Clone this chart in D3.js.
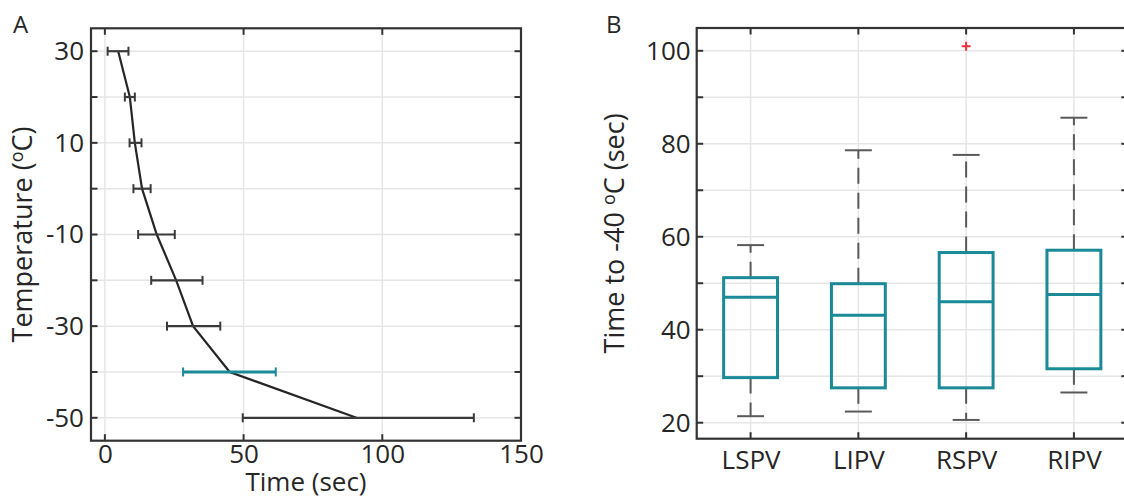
<!DOCTYPE html>
<html><head><meta charset="utf-8">
<script src="https://cdn.jsdelivr.net/npm/d3@7/dist/d3.min.js"></script>
<style>body{margin:0;background:#fff}svg{display:block}text{font-family:"Open Sans",sans-serif;fill:#262626}</style>
</head><body>
<script>
// Panel A data
const temps = [30, 20, 10, 0, -10, -20, -30, -40, -50];
const meanTime = [4.8, 9.0, 10.8, 13.4, 18.7, 25.7, 31.8, 45.0, 90.7];
const lowTime = [1.0, 7.2, 8.9, 10.3, 12.0, 16.7, 22.4, 28.2, 49.7];
const highTime = [8.5, 10.8, 13.2, 16.5, 25.2, 35.2, 41.6, 61.6, 133.0];
const highlightTemp = -40;
const xTicksA = [0, 50, 100, 150];
const yTicksA = [30, 20, 10, 0, -10, -20, -30, -40, -50];
const yLabelsA = [30, 10, -10, -30, -50];

// Panel B data
const veins = ["LSPV", "LIPV", "RSPV", "RIPV"];
const q1 = [29.7, 27.5, 27.5, 31.6];
const medians = [47.0, 43.1, 46.0, 47.6];
const q3 = [51.2, 49.9, 56.6, 57.1];
const whiskLow = [21.4, 22.4, 20.6, 26.5];
const whiskHigh = [58.2, 78.6, 77.6, 85.6];
const outlierVein = ["RSPV"];
const outlierValue = [101.0];
const yTicksB = [20, 30, 40, 50, 60, 70, 80, 90, 100];
const yLabelsB = [20, 40, 60, 80, 100];

const W = 1124, H = 499;
const svg = d3.select("body").append("svg").attr("width", W).attr("height", H);
const frameCol = "#333", gridCol = "#e6e6e6", teal = "#1a8a98", dark = "#262626";
const tickFont = 26, labFont = 27, tl = 6.5;
const plain = d => String(d);

// ---------- Panel A ----------
const A = {l: 91, r: 521, t: 28.3, b: 440.7};
const xA = d3.scaleLinear().domain([-5, 150]).range([A.l, A.r]);
const yA = d3.scaleLinear().domain([-55, 35]).range([A.b, A.t]);
const gA = svg.append("g");
gA.selectAll(".gx").data(xTicksA.filter(d => d < 150)).join("line")
  .attr("x1", d => xA(d)).attr("x2", d => xA(d)).attr("y1", A.t).attr("y2", A.b)
  .attr("stroke", gridCol).attr("stroke-width", 1.5);
gA.selectAll(".gy").data(yTicksA).join("line")
  .attr("x1", A.l).attr("x2", A.r).attr("y1", d => yA(d)).attr("y2", d => yA(d))
  .attr("stroke", gridCol).attr("stroke-width", 1.5);
const pts = temps.map((t, i) => [meanTime[i], t]);
gA.append("path").datum(pts)
  .attr("d", d3.line().x(d => xA(d[0])).y(d => yA(d[1])))
  .attr("fill", "none").attr("stroke", dark).attr("stroke-width", 2.2);
temps.forEach((t, i) => {
  const c = t === highlightTemp ? teal : "#3a3a3a";
  const w = t === highlightTemp ? 3 : 2.2;
  const y = yA(t);
  gA.append("line").attr("x1", xA(lowTime[i])).attr("x2", xA(highTime[i])).attr("y1", y).attr("y2", y)
    .attr("stroke", c).attr("stroke-width", w);
  [lowTime[i], highTime[i]].forEach(v => {
    gA.append("line").attr("x1", xA(v)).attr("x2", xA(v)).attr("y1", y - 4.5).attr("y2", y + 4.5)
      .attr("stroke", c).attr("stroke-width", 2);
  });
});
gA.append("rect").attr("x", A.l).attr("y", A.t).attr("width", A.r - A.l).attr("height", A.b - A.t)
  .attr("fill", "none").attr("stroke", frameCol).attr("stroke-width", 2.2);
const axBA = d3.axisBottom(xA).tickValues(xTicksA).tickSize(0).tickPadding(3).tickFormat(plain);
const gxA = gA.append("g").attr("transform", `translate(0,${A.b})`).call(axBA);
gxA.select(".domain").remove();
gxA.selectAll("text").attr("font-size", tickFont).attr("font-family", "Open Sans").attr("fill", dark).attr("dy", "0.76em");
xTicksA.forEach(v => {
  [[A.b, A.b - tl], [A.t, A.t + tl]].forEach(([a, b]) =>
    gA.append("line").attr("x1", xA(v)).attr("x2", xA(v)).attr("y1", a).attr("y2", b).attr("stroke", frameCol).attr("stroke-width", 2));
});
yTicksA.forEach(v => {
  [[A.l, A.l + tl], [A.r, A.r - tl]].forEach(([a, b]) =>
    gA.append("line").attr("x1", a).attr("x2", b).attr("y1", yA(v)).attr("y2", yA(v)).attr("stroke", frameCol).attr("stroke-width", 2));
});
const axLA = d3.axisLeft(yA).tickValues(yLabelsA).tickSize(0).tickPadding(7).tickFormat(plain);
const gyA = gA.append("g").attr("transform", `translate(${A.l},0)`).call(axLA);
gyA.select(".domain").remove();
gyA.selectAll("text").attr("font-size", tickFont).attr("font-family", "Open Sans").attr("fill", dark);
gA.append("text").attr("x", (A.l + A.r) / 2).attr("y", 491).attr("text-anchor", "middle").attr("font-size", 26).text("Time (sec)");
const ylA = gA.append("text").attr("transform", `translate(32,${(A.t + A.b) / 2}) rotate(-90)`).attr("text-anchor", "middle").attr("font-size", labFont);
ylA.append("tspan").text("Temperature (");
ylA.append("tspan").attr("font-size", 18).attr("dy", -9).text("o");
ylA.append("tspan").attr("dy", 9).text("C)");
svg.append("text").attr("x", 13).attr("y", 33).attr("font-size", 24).text("A");

// ---------- Panel B ----------
const B = {l: 696.7, r: 1127.8, t: 28, b: 438.7};
const xB = d3.scaleLinear().domain([0.5, 4.5]).range([B.l, B.r]);
const yB = d3.scaleLinear().domain([16.56, 104.9]).range([B.b, B.t]);
const gB = svg.append("g");
const pos = veins.map((v, i) => i + 1);
gB.selectAll(".gx").data(pos).join("line")
  .attr("x1", d => xB(d)).attr("x2", d => xB(d)).attr("y1", B.t).attr("y2", B.b)
  .attr("stroke", gridCol).attr("stroke-width", 1.5);
gB.selectAll(".gy").data(yTicksB).join("line")
  .attr("x1", B.l).attr("x2", B.r).attr("y1", d => yB(d)).attr("y2", d => yB(d))
  .attr("stroke", gridCol).attr("stroke-width", 1.5);
const bw = 0.5, cw = 0.25, wCol = "#5a5a5a";
veins.forEach((v, i) => {
  const x = xB(i + 1);
  gB.append("line").attr("x1", x).attr("x2", x).attr("y1", yB(q3[i])).attr("y2", yB(whiskHigh[i]))
    .attr("stroke", wCol).attr("stroke-width", 2).attr("stroke-dasharray", "16,9");
  gB.append("line").attr("x1", x).attr("x2", x).attr("y1", yB(q1[i])).attr("y2", yB(whiskLow[i]))
    .attr("stroke", wCol).attr("stroke-width", 2).attr("stroke-dasharray", "16,9");
  [whiskHigh[i], whiskLow[i]].forEach(w => {
    gB.append("line").attr("x1", xB(i + 1 - cw / 2)).attr("x2", xB(i + 1 + cw / 2)).attr("y1", yB(w)).attr("y2", yB(w))
      .attr("stroke", wCol).attr("stroke-width", 2);
  });
  gB.append("rect").attr("x", xB(i + 1 - bw / 2)).attr("y", yB(q3[i]))
    .attr("width", xB(i + 1 + bw / 2) - xB(i + 1 - bw / 2)).attr("height", yB(q1[i]) - yB(q3[i]))
    .attr("fill", "none").attr("stroke", teal).attr("stroke-width", 3);
  gB.append("line").attr("x1", xB(i + 1 - bw / 2)).attr("x2", xB(i + 1 + bw / 2)).attr("y1", yB(medians[i])).attr("y2", yB(medians[i]))
    .attr("stroke", teal).attr("stroke-width", 3);
});
outlierVein.forEach((v, k) => {
  const x = xB(veins.indexOf(v) + 1), y = yB(outlierValue[k]);
  gB.append("path").attr("d", `M${x - 4.5},${y}H${x + 4.5}M${x},${y - 4.5}V${y + 4.5}`)
    .attr("stroke", "#e8323c").attr("stroke-width", 2);
});
gB.append("rect").attr("x", B.l).attr("y", B.t).attr("width", B.r - B.l).attr("height", B.b - B.t)
  .attr("fill", "none").attr("stroke", frameCol).attr("stroke-width", 2.2);
pos.forEach(p => {
  [[B.b, B.b - tl], [B.t, B.t + tl]].forEach(([a, b]) =>
    gB.append("line").attr("x1", xB(p)).attr("x2", xB(p)).attr("y1", a).attr("y2", b).attr("stroke", frameCol).attr("stroke-width", 2));
});
yTicksB.forEach(v => {
  [[B.l, B.l + tl], [B.r, B.r - tl]].forEach(([a, b]) =>
    gB.append("line").attr("x1", a).attr("x2", b).attr("y1", yB(v)).attr("y2", yB(v)).attr("stroke", frameCol).attr("stroke-width", 2));
});
const axBB = d3.axisBottom(xB).tickValues(pos).tickSize(0).tickPadding(11).tickFormat(d => veins[d - 1]);
const gxB = gB.append("g").attr("transform", `translate(0,${B.b})`).call(axBB);
gxB.select(".domain").remove();
gxB.selectAll("text").attr("font-size", tickFont).attr("font-family", "Open Sans").attr("fill", dark).attr("dy", "0.76em");
const axLB = d3.axisLeft(yB).tickValues(yLabelsB).tickSize(0).tickPadding(6).tickFormat(plain);
const gyB = gB.append("g").attr("transform", `translate(${B.l},0)`).call(axLB);
gyB.select(".domain").remove();
gyB.selectAll("text").attr("font-size", tickFont).attr("font-family", "Open Sans").attr("fill", dark);
const ylB = gB.append("text").attr("transform", `translate(624,${(B.t + B.b) / 2}) rotate(-90)`).attr("text-anchor", "middle").attr("font-size", labFont);
ylB.append("tspan").text("Time to -40 ");
ylB.append("tspan").attr("font-size", 18).attr("dy", -9).text("o");
ylB.append("tspan").attr("dy", 9).text("C (sec)");
svg.append("text").attr("x", 606).attr("y", 33).attr("font-size", 24).text("B");
</script>
</body></html>
